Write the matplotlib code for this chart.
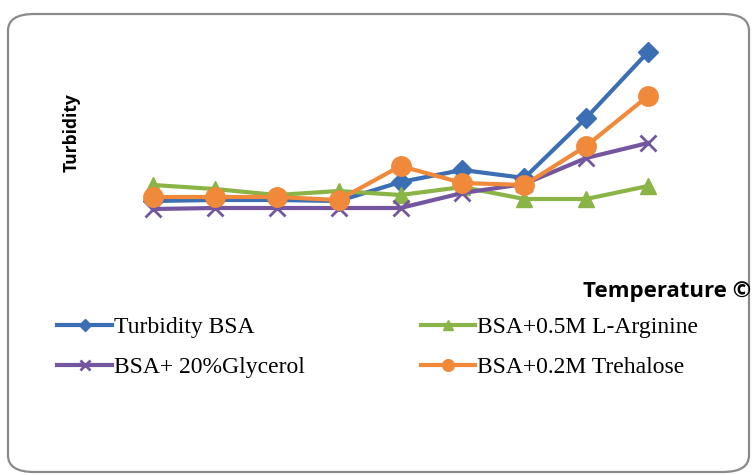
import matplotlib
matplotlib.use("Agg")
import matplotlib.pyplot as plt
from matplotlib.patches import FancyBboxPatch

# temperature steps (no tick labels are shown on the chart)
temps = [30, 35, 40, 45, 50, 55, 60, 65, 70]

bsa = [0.29, 0.30, 0.30, 0.29, 0.48, 0.60, 0.52, 1.12, 1.78]
arginine = [0.45, 0.41, 0.35, 0.39, 0.35, 0.43, 0.31, 0.31, 0.44]
glycerol = [0.21, 0.22, 0.22, 0.22, 0.22, 0.37, 0.46, 0.72, 0.87]
trehalose = [0.33, 0.33, 0.33, 0.30, 0.64, 0.47, 0.45, 0.84, 1.34]

labels = ["Turbidity BSA", "BSA+0.5M L-Arginine", "BSA+ 20%Glycerol", "BSA+0.2M Trehalose"]
colors = ["#3C6EB4", "#8BB446", "#7456A0", "#F0893A"]

W, H = 752, 475
fig = plt.figure(figsize=(W / 100, H / 100), dpi=100)

# rounded outer frame
frame = FancyBboxPatch((8 / W, 3 / H), 741 / W, 458 / H,
                       boxstyle="round,pad=0,rounding_size=0.035",
                       transform=fig.transFigure, facecolor="white",
                       edgecolor="#8a8a8a", linewidth=1.6, zorder=-5)
fig.patches.append(frame)

ax = fig.add_axes([122 / W, (H - 230) / H, 557 / W, 200 / H])
ax.set_facecolor("none")
ax.set_zorder(2)
xs = list(range(len(temps)))

h_bsa, = ax.plot(xs, bsa, "-D", color=colors[0], lw=3, ms=10, mec=colors[0])
h_arg, = ax.plot(xs, arginine, "-^", color=colors[1], lw=3, ms=12, mec=colors[1])
h_gly, = ax.plot(xs, glycerol, "-x", color=colors[2], lw=3, ms=12, mew=2, mec=colors[2])
h_tre, = ax.plot(xs, trehalose, "-o", color=colors[3], lw=3, ms=14, mec=colors[3])

ax.set_xlim(-0.5, len(temps) - 0.5)
ax.set_ylim(0, 2.0)
ax.set_xticks([])
ax.set_yticks([])
for s in ax.spines.values():
    s.set_visible(False)

fig.text(72 / W, 1 - 133 / H, "Turbidity", rotation=90, ha="center", va="center",
         fontsize=12.5, fontweight="bold", family="Open Sans")
fig.text(751 / W, 1 - 291 / H, "Temperature \u00a9", ha="right", va="center",
         fontsize=16, fontweight="bold", family="Open Sans")

fig.legend([h_bsa, h_gly, h_arg, h_tre],
           [labels[0], labels[2], labels[1], labels[3]],
           loc="upper left", bbox_to_anchor=(48 / W, 1 - 307 / H), ncol=2,
           frameon=False, prop={"family": "Liberation Serif", "size": 17},
           handlelength=2.3, handletextpad=0.1, columnspacing=4.9,
           labelspacing=0.78, markerscale=0.6, borderaxespad=0)

fig.savefig("out.png", dpi=100)
